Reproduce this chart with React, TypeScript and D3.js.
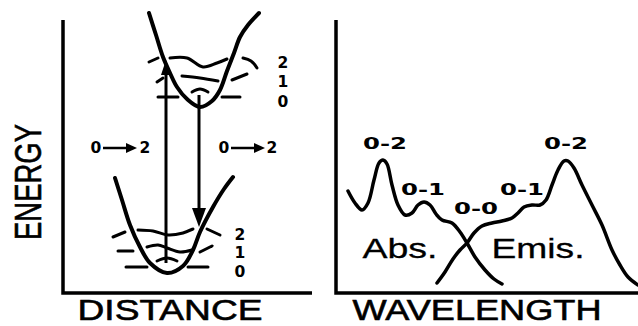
import React from "react";
import * as d3 from "d3";

type P = [number, number];

// Left panel: potential energy curves (distance units, energy units)
const upperCurve: P[] = [[86,280],[93,258],[100,236],[107,220],[114,206],[124,194],[137,186],[149,192],[157,203],[164,222],[171,240],[177,256],[185,268],[196,280]];
const lowerCurve: P[] = [[52,115],[59,93],[67,68],[77,46],[87,30],[104,20],[120,27],[130,43],[137,61],[150,86],[161,104],[170,116]];

const upperLevels: P[][] = [
  [[86,231],[95,235]],
  [[107,235],[124,235],[140,226],[154,230],[164,234]],
  [[180,235],[188,232],[194,225]],
  [[94,211],[100,215]],
  [[119,217],[137,215],[155,212]],
  [[169,213],[184,219]],
  [[95,196],[115,196]],
  [[129,201],[137,204],[145,201]],
  [[159,196],[177,196]],
];
const lowerLevels: P[][] = [
  [[50,56],[62,61]],
  [[75,63],[90,62],[105,58],[120,60],[130,64]],
  [[144,64],[157,58]],
  [[55,42],[70,42]],
  [[84,46],[95,48],[104,45],[117,41],[129,43]],
  [[137,41],[149,47]],
  [[63,26],[84,26]],
  [[94,32],[104,35],[114,32]],
  [[125,26],[145,26]],
];
const levelNames = ["2", "1", "0"];
const upperLevelY = [230, 211, 191];
const lowerLevelY = [58, 40, 21];
const upArrow = { x: 103, from: 30, to: 233 };
const downArrow = { x: 136, from: 198, to: 66 };

// Right panel: spectra (wavelength units, intensity units)
const absorption: P[] = [[12,102],[19,90],[26,83],[32,90],[38,113],[43,130],[47,133],[51,129],[56,108],[62,88],[69,78],[76,80],[82,88],[88,91],[94,88],[100,79],[106,73],[116,70],[124,61],[131,50],[139,36],[149,23],[158,14],[166,9]];
const emission: P[] = [[101,10],[109,21],[117,34],[124,43],[131,50],[138,60],[146,67],[156,70],[166,72],[176,75],[182,80],[188,86],[196,88],[204,88],[210,93],[216,108],[222,123],[228,132],[232,132],[238,125],[246,108],[256,88],[266,68],[276,43],[284,28],[292,16],[302,8]];
const bandLabels = [
  { t: "0-2", x: 49, y: 149 },
  { t: "0-1", x: 87, y: 103 },
  { t: "0-0", x: 140, y: 84 },
  { t: "0-1", x: 186, y: 103 },
  { t: "0-2", x: 230, y: 149 },
];

const FONT = "'Liberation Sans', Arial, sans-serif";
const DFONT = "'DejaVu Sans', sans-serif";

export default function App() {
  const xL = d3.scaleLinear().domain([0, 249]).range([63, 312]);
  const y = d3.scaleLinear().domain([0, 273]).range([293, 20]);
  const xR = d3.scaleLinear().domain([0, 302]).range([336, 638]);

  const lineL = d3.line<P>().x(d => xL(d[0])).y(d => y(d[1])).curve(d3.curveCatmullRom.alpha(0.5));
  const lineR = d3.line<P>().x(d => xR(d[0])).y(d => y(d[1])).curve(d3.curveCatmullRom.alpha(0.5));

  const arrowHead = (x: number, tipY: number, dir: number, len: number, hw: number) =>
    `M${x},${tipY} L${x - hw},${tipY + dir * len} L${x + hw},${tipY + dir * len} Z`;

  const smallArrow = (x0: number, x1: number, yy: number) => (
    <g>
      <line x1={x0} x2={x1 - 8} y1={yy} y2={yy} stroke="#000" strokeWidth={2.5} />
      <path d={`M${x1},${yy} L${x1 - 11},${yy - 5} L${x1 - 11},${yy + 5} Z`} fill="#000" />
    </g>
  );

  const digitStyle = { fontFamily: DFONT, fontWeight: 700, fontSize: 15.5 } as const;
  const bigStyle = { fontFamily: FONT, fontWeight: 400, stroke: "#000" } as const;

  return (
    <svg width={638} height={326} style={{ position: "absolute", left: 0, top: 0, background: "#fff" }}>
      {/* Left axes */}
      <path d={`M${xL(0)},${y(273)} L${xL(0)},${y(0)} L${xL(249)},${y(0)}`} fill="none" stroke="#000" strokeWidth={3.5} />
      {/* Right axes */}
      <path d={`M${xR(0)},${y(273)} L${xR(0)},${y(0)} L${xR(302)},${y(0)}`} fill="none" stroke="#000" strokeWidth={3.5} />

      {/* Curves */}
      <path d={lineL(upperCurve) || ""} fill="none" stroke="#000" strokeWidth={4} strokeLinecap="round" />
      <path d={lineL(lowerCurve) || ""} fill="none" stroke="#000" strokeWidth={4} strokeLinecap="round" />
      {upperLevels.concat(lowerLevels).map((s, i) => (
        <path key={i} d={lineL(s) || ""} fill="none" stroke="#000" strokeWidth={3} strokeLinecap="round" />
      ))}

      {/* Vertical arrows */}
      <line x1={xL(upArrow.x)} x2={xL(upArrow.x)} y1={y(upArrow.from)} y2={y(upArrow.to) + 8} stroke="#000" strokeWidth={3} />
      <path d={arrowHead(xL(upArrow.x), y(upArrow.to), 1, 15, 5)} fill="#000" />
      <line x1={xL(downArrow.x)} x2={xL(downArrow.x)} y1={y(downArrow.from)} y2={y(downArrow.to) - 10} stroke="#000" strokeWidth={3} />
      <path d={arrowHead(xL(downArrow.x), y(downArrow.to), -1, 19, 7)} fill="#000" />

      {/* Transition labels */}
      <text x={96} y={148} textAnchor="middle" dominantBaseline="central" {...digitStyle}>0</text>
      {smallArrow(103, 137, 148)}
      <text x={145} y={148} textAnchor="middle" dominantBaseline="central" {...digitStyle}>2</text>
      <text x={224} y={148} textAnchor="middle" dominantBaseline="central" {...digitStyle}>0</text>
      {smallArrow(231, 265, 148)}
      <text x={272} y={148} textAnchor="middle" dominantBaseline="central" {...digitStyle}>2</text>

      {/* Level numbers */}
      {levelNames.map((n, i) => (
        <text key={"u" + i} x={283} y={y(upperLevelY[i])} textAnchor="middle" dominantBaseline="central" {...digitStyle}>{n}</text>
      ))}
      {levelNames.map((n, i) => (
        <text key={"l" + i} x={240} y={y(lowerLevelY[i])} textAnchor="middle" dominantBaseline="central" {...digitStyle}>{n}</text>
      ))}

      {/* Spectra */}
      <path d={lineR(absorption) || ""} fill="none" stroke="#000" strokeWidth={3.5} strokeLinecap="round" />
      <path d={lineR(emission) || ""} fill="none" stroke="#000" strokeWidth={3.5} strokeLinecap="round" />
      {bandLabels.map((b, i) => (
        <text key={i} x={xR(b.x)} y={y(b.y)} textAnchor="middle" dominantBaseline="central"
          textLength={44} lengthAdjust="spacingAndGlyphs" {...digitStyle}>{b.t}</text>
      ))}
      <text x={400} y={258} textAnchor="middle" fontSize={28} strokeWidth={0.3}
        textLength={75} lengthAdjust="spacingAndGlyphs" {...bigStyle}>Abs.</text>
      <text x={538} y={258} textAnchor="middle" fontSize={28} strokeWidth={0.3}
        textLength={93} lengthAdjust="spacingAndGlyphs" {...bigStyle}>Emis.</text>

      {/* Axis titles */}
      <text transform="translate(41,182) rotate(-90)" textAnchor="middle" fontSize={36} strokeWidth={0.6}
        textLength={116} lengthAdjust="spacingAndGlyphs" {...bigStyle}>ENERGY</text>
      <text x={170} y={319.5} textAnchor="middle" fontSize={30} strokeWidth={0.6}
        textLength={185} lengthAdjust="spacingAndGlyphs" {...bigStyle}>DISTANCE</text>
      <text x={477} y={319.5} textAnchor="middle" fontSize={30} strokeWidth={0.6}
        textLength={249} lengthAdjust="spacingAndGlyphs" {...bigStyle}>WAVELENGTH</text>
    </svg>
  );
}
